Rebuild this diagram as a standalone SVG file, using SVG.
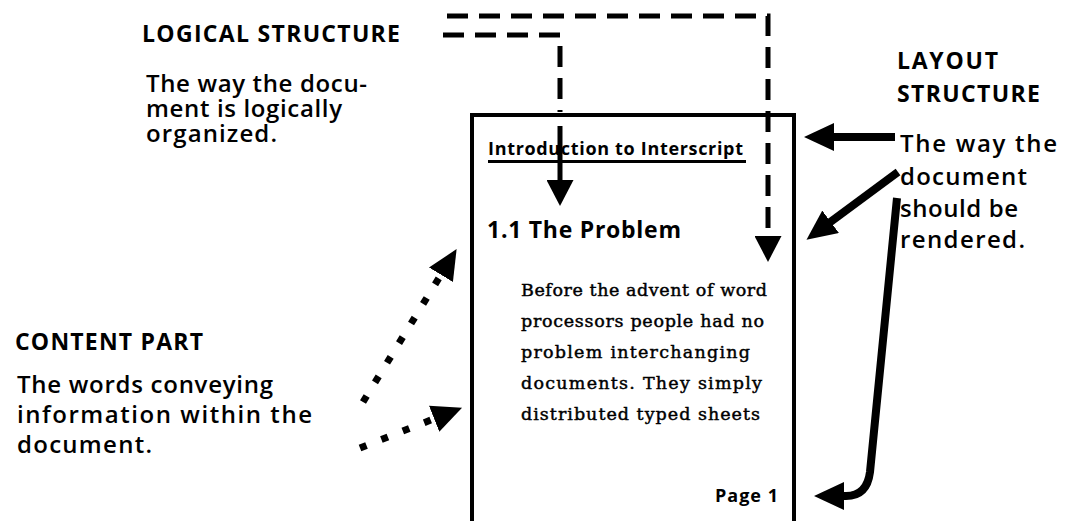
<svg xmlns="http://www.w3.org/2000/svg" width="1067" height="521" viewBox="0 0 1067 521">
<style>
.h{font-family:"Open Sans","Liberation Sans",sans-serif;font-weight:700;font-size:23px;fill:#000}
.d{font-family:"Open Sans","Liberation Sans",sans-serif;font-weight:600;font-size:24px;fill:#000}
.t{font-family:"Open Sans","Liberation Sans",sans-serif;font-weight:700;fill:#000}
.s{font-family:"DejaVu Serif","Liberation Serif",serif;font-size:17.5px;fill:#000;stroke:#000;stroke-width:0.45}
.dash{fill:none;stroke:#000;stroke-width:5;stroke-dasharray:21 11}
.solid{fill:none;stroke:#000;stroke-width:8;stroke-linejoin:round}
.dot{fill:none;stroke:#000;stroke-width:7;stroke-dasharray:7 16}
</style>
<defs>
<marker id="ah" markerUnits="userSpaceOnUse" markerWidth="30" markerHeight="28" viewBox="0 0 30 28" refX="2" refY="14" orient="auto"><path d="M0,0 L30,14 L0,28 z" fill="#000"/></marker>
<marker id="ahd" markerUnits="userSpaceOnUse" markerWidth="26" markerHeight="27" viewBox="0 0 26 27" refX="2" refY="13.5" orient="auto"><path d="M0,0 L26,13.5 L0,27 z" fill="#000"/></marker>
</defs>
<rect width="1067" height="521" fill="#fff"/>

<g id="logical-structure">
<text class="h" x="142" y="42" textLength="258">LOGICAL STRUCTURE</text>
<text class="d" x="146" y="92" textLength="221">The way the docu-</text>
<text class="d" x="146" y="117" textLength="196">ment is logically</text>
<text class="d" x="146" y="142" textLength="131">organized.</text>
</g>

<g id="layout-structure">
<text class="h" x="897" y="69" textLength="101">LAYOUT</text>
<text class="h" x="897" y="102" textLength="143">STRUCTURE</text>
<text class="d" x="900" y="152" textLength="157">The way the</text>
<text class="d" x="900" y="185" textLength="127">document</text>
<text class="d" x="900" y="217" textLength="118">should be</text>
<text class="d" x="900" y="248" textLength="125">rendered.</text>
</g>

<g id="content-part">
<text class="h" x="15" y="350" textLength="188">CONTENT PART</text>
<text class="d" x="17" y="393" textLength="256">The words conveying</text>
<text class="d" x="17" y="423" textLength="295">information within the</text>
<text class="d" x="17" y="453" textLength="135">document.</text>
</g>

<g id="page">
<path d="M472,525 V115 H794 V525" fill="none" stroke="#000" stroke-width="4"/>
<text class="t" x="488" y="155" font-size="18" textLength="255">Introduction to Interscript</text>
<line x1="488" y1="161.5" x2="746" y2="161.5" stroke="#000" stroke-width="3"/>
<text class="t" x="487" y="238" font-size="23" textLength="194">1.1 The Problem</text>
<text class="s" x="521" y="296" textLength="246">Before the advent of word</text>
<text class="s" x="521" y="327" textLength="243">processors people had no</text>
<text class="s" x="521" y="358" textLength="229">problem interchanging</text>
<text class="s" x="521" y="389" textLength="241">documents. They simply</text>
<text class="s" x="521" y="420" textLength="239">distributed typed sheets</text>
<text class="t" x="715" y="502" font-size="18" textLength="63">Page 1</text>
</g>

<g id="connectors">
<path class="dash" d="M447,16 H768 V238" marker-end="url(#ahd)"/>
<path class="dash" d="M443,35 H560 V112"/>
<path d="M560,126 V182" fill="none" stroke="#000" stroke-width="5" marker-end="url(#ahd)"/>
<path class="solid" d="M895,137 H832" marker-end="url(#ah)"/>
<path class="solid" d="M898,172 L829,223" marker-end="url(#ah)"/>
<path class="solid" d="M897,198 L870,472 Q867,496 846,496 L842,496" stroke-width="7" marker-end="url(#ah)"/>
<path class="dot" d="M363,402 L442,273" marker-end="url(#ah)"/>
<path class="dot" d="M360,448 L436,418" marker-end="url(#ah)"/>
</g>
</svg>
